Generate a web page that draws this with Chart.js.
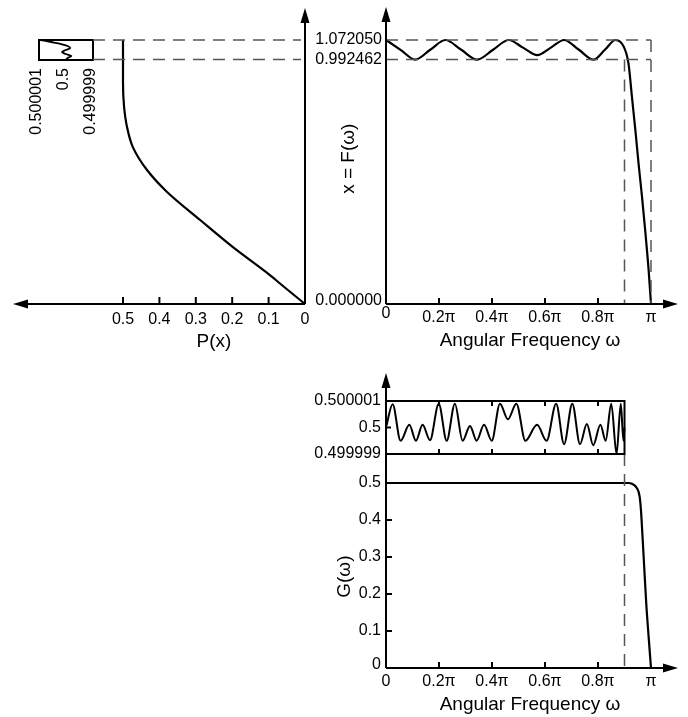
<!DOCTYPE html>
<html>
<head>
<meta charset="utf-8">
<script src="https://cdn.jsdelivr.net/npm/chart.js@4.4.0/dist/chart.umd.min.js"></script>
<style>
  body { margin: 0; background: #fff; }
  #wrap { position: relative; width: 688px; height: 717px; }
  #wrap canvas { position: absolute; left: 0; top: 0; }
</style>
</head>
<body>
<div id="wrap">
  <canvas id="pChart" width="688" height="717"></canvas>
  <canvas id="pZoom" width="688" height="717"></canvas>
  <canvas id="fChart" width="688" height="717"></canvas>
  <canvas id="gChart" width="688" height="717"></canvas>
  <canvas id="gZoom" width="688" height="717"></canvas>
</div>
<script>
// ---- data ----
// frequencies are in units of pi
const omegaTicks = [0, 0.2, 0.4, 0.6, 0.8, 1];
const omegaTickLabels = ['0', '0.2π', '0.4π', '0.6π', '0.8π', 'π'];
const pTicks = [0.5, 0.4, 0.3, 0.2, 0.1, 0];
const pTickLabels = ['0.5', '0.4', '0.3', '0.2', '0.1', '0'];
const gTicks = [0, 0.1, 0.2, 0.3, 0.4, 0.5];
const gTickLabels = ['0', '0.1', '0.2', '0.3', '0.4', '0.5'];
const xLevels = [0, 0.992462, 1.072050];
const xLevelLabels = ['0.000000', '0.992462', '1.072050'];
// close-ups are offsets from 0.5 in units of 1e-6
const zoomTicks = [1, 0, -1];
const zoomTickLabels = ['0.500001', '0.5', '0.499999'];

// x = F(omega)
const fOmega = [0, 0.055, 0.11, 0.167, 0.224, 0.284, 0.344, 0.404, 0.463, 0.517, 0.571, 0.622,
  0.672, 0.728, 0.783, 0.826, 0.866, 0.897, 0.915, 0.928, 0.941, 0.953, 0.966, 0.978, 0.991, 1];
const fValue = [1.07205, 1.0323, 0.99246, 1.0323, 1.07205, 1.0323, 0.99246, 1.0323, 1.07205, 1.041, 1.0105, 1.041,
  1.07205, 1.0323, 0.99246, 1.0323, 1.07205, 1.045, 0.977, 0.842, 0.706, 0.571, 0.436, 0.300, 0.138, 0];

// P(x), x runs up the shared vertical axis
const pX = [0, 0.07, 0.126, 0.231, 0.341, 0.455, 0.544, 0.637, 0.719, 0.80, 0.897, 1.07205];
const pValue = [0, 0.058, 0.104, 0.198, 0.288, 0.379, 0.434, 0.473, 0.489, 0.497, 0.5, 0.5];
const pZoomX = [0.99246, 1.00042, 1.00838, 1.01634, 1.0243, 1.03226, 1.04021, 1.04817, 1.05613, 1.06409, 1.07205];
const pZoomDev = [0.01, -0.06, -0.2, 0.01, 0.15, 0.01, -0.16, -0.06, 0.18, 0.55, 0.94];

// G(omega)
const gOmega = [0, 0.9, 0.915, 0.928, 0.947, 0.957, 0.962, 0.968, 0.975, 0.982, 0.991, 1];
const gValue = [0.5, 0.5, 0.5, 0.498, 0.486, 0.464, 0.428, 0.355, 0.265, 0.175, 0.085, 0];
const gZoomOmega = [0, 0.025, 0.055, 0.088, 0.113, 0.138, 0.166, 0.199, 0.229, 0.260, 0.289, 0.317,
  0.342, 0.370, 0.399, 0.430, 0.460, 0.492, 0.526, 0.570, 0.606, 0.642, 0.672, 0.703, 0.732, 0.758,
  0.782, 0.809, 0.829, 0.850, 0.870, 0.886, 0.896, 0.9];
const gZoomDev = [0, 0.88, -0.5, 0.1, -0.5, 0.1, -0.48, 0.9, -0.5, 0.9, -0.5, 0.06,
  -0.5, 0.1, -0.5, 0.9, 0.31, 0.9, -0.5, 0.1, -0.5, 0.9, -0.63, 0.9, -0.63, 0.13,
  -0.67, 0.1, -0.5, 0.9, -1.0, 0.9, -0.5, 0];

// ---- drawing helpers ----
const W = 688, H = 717;
const FONT = '"Liberation Sans", Arial, Helvetica, sans-serif';
const DASH = [12, 8];

function pts(xs, ys) {
  return xs.map(function (v, i) { return { x: v, y: ys[i] }; });
}

function seg(ctx, x1, y1, x2, y2) {
  ctx.beginPath();
  ctx.moveTo(x1, y1);
  ctx.lineTo(x2, y2);
  ctx.stroke();
}

function arrowLine(ctx, x1, y1, x2, y2) {
  const a = Math.atan2(y2 - y1, x2 - x1), c = Math.cos(a), s = Math.sin(a);
  const len = 15, half = 4.5;
  seg(ctx, x1, y1, x2 - c * len * 0.7, y2 - s * len * 0.7);
  ctx.beginPath();
  ctx.moveTo(x2, y2);
  ctx.lineTo(x2 - c * len + s * half, y2 - s * len - c * half);
  ctx.lineTo(x2 - c * len - s * half, y2 - s * len + c * half);
  ctx.closePath();
  ctx.fill();
}

function label(ctx, str, x, y, align, size, rot) {
  ctx.save();
  ctx.font = (size || 16) + 'px ' + FONT;
  ctx.fillStyle = '#000';
  ctx.textAlign = align || 'center';
  ctx.textBaseline = 'middle';
  ctx.translate(x, y);
  if (rot) ctx.rotate(rot);
  ctx.fillText(str, 0, 0);
  ctx.restore();
}

function dashed(ctx, x1, y1, x2, y2) {
  ctx.save();
  ctx.strokeStyle = '#555';
  ctx.lineWidth = 1.5;
  ctx.setLineDash(DASH);
  seg(ctx, x1, y1, x2, y2);
  ctx.restore();
}

function curve(data, width) {
  return {
    data: data,
    borderColor: '#000',
    borderWidth: width || 2.2,
    pointRadius: 0,
    fill: false,
    clip: false,
    cubicInterpolationMode: 'monotone'
  };
}

function makeChart(id, area, xs, ys, datasets, decorate, indexAxis) {
  return new Chart(document.getElementById(id), {
    type: 'line',
    data: { datasets: datasets },
    options: {
      indexAxis: indexAxis || 'x',
      responsive: false,
      animation: false,
      devicePixelRatio: 1,
      events: [],
      layout: { padding: { left: area[0], top: area[1], right: W - area[2], bottom: H - area[3] } },
      plugins: { legend: { display: false }, tooltip: { enabled: false } },
      scales: {
        x: Object.assign({ type: 'linear', display: false }, xs),
        y: Object.assign({ type: 'linear', display: false }, ys)
      }
    },
    plugins: [{ id: 'decor', afterDraw: decorate }]
  });
}

// ---- P(x) panel, drawn right to left ----
const pChart = makeChart('pChart', [123, 40, 305, 304],
  { min: 0, max: 0.5, reverse: true }, { min: 0, max: xLevels[2] },
  [curve(pts(pValue, pX))],
  function (chart) {
    const ctx = chart.ctx, sx = chart.scales.x, sy = chart.scales.y;
    const x0 = sx.getPixelForValue(0), y0 = sy.getPixelForValue(0);
    ctx.save();
    ctx.strokeStyle = ctx.fillStyle = '#000';
    ctx.lineWidth = 2;
    arrowLine(ctx, x0, y0, x0 - 292, y0);
    arrowLine(ctx, x0, y0, x0, y0 - 296);
    pTicks.forEach(function (v, i) {
      const px = sx.getPixelForValue(v);
      if (v > 0) seg(ctx, px, y0, px, y0 - 7);
      label(ctx, pTickLabels[i], px, y0 + 16);
    });
    label(ctx, 'P(x)', sx.getPixelForValue(0.25), y0 + 38, 'center', 19);
    ctx.restore();
  }, 'y');

// close-up of P(x) near 0.5 over the ripple band
const pZoom = makeChart('pZoom', [39, 40, 93, 60],
  { min: -1, max: 1, reverse: true }, { min: xLevels[1], max: xLevels[2] },
  [curve(pts(pZoomDev, pZoomX), 1.8)],
  function (chart) {
    const ctx = chart.ctx, a = chart.chartArea, sx = chart.scales.x;
    ctx.save();
    ctx.strokeStyle = '#000';
    ctx.lineWidth = 2;
    ctx.strokeRect(a.left, a.top, a.right - a.left, a.bottom - a.top);
    zoomTicks.forEach(function (v, i) {
      label(ctx, zoomTickLabels[i], sx.getPixelForValue(v) - 2, a.bottom + 8, 'right', 16, -Math.PI / 2);
    });
    ctx.restore();
  }, 'y');

// ---- x = F(omega) panel ----
const fChart = makeChart('fChart', [386, 40, 651, 304],
  { min: 0, max: 1 }, { min: 0, max: xLevels[2] },
  [curve(pts(fOmega, fValue))],
  function (chart) {
    const ctx = chart.ctx, sx = chart.scales.x, sy = chart.scales.y;
    const x0 = sx.getPixelForValue(0), y0 = sy.getPixelForValue(0);
    const xEnd = sx.getPixelForValue(1), xEdge = sx.getPixelForValue(0.9);
    const left = pZoom.chartArea.right, pAxis = pChart.scales.x.getPixelForValue(0);
    // the level lines break where the value labels sit
    [xLevels[1], xLevels[2]].forEach(function (v) {
      const py = sy.getPixelForValue(v);
      dashed(ctx, left, py, pAxis - 4, py);
      dashed(ctx, x0, py, xEnd, py);
    });
    dashed(ctx, xEdge, sy.getPixelForValue(xLevels[1]), xEdge, y0);
    dashed(ctx, xEnd, sy.getPixelForValue(xLevels[2]), xEnd, y0);
    ctx.save();
    ctx.strokeStyle = ctx.fillStyle = '#000';
    ctx.lineWidth = 2;
    arrowLine(ctx, x0, y0, x0 + 292, y0);
    arrowLine(ctx, x0, y0, x0, y0 - 297);
    omegaTicks.forEach(function (v, i) {
      const px = sx.getPixelForValue(v);
      if (v > 0 && v < 1) seg(ctx, px, y0, px, y0 - 6);
      label(ctx, omegaTickLabels[i], px, y0 + (v === 0 ? 10 : 14));
    });
    xLevels.forEach(function (v, i) {
      label(ctx, xLevelLabels[i], x0 - 4, sy.getPixelForValue(v) - (v === 0 ? 3 : 0), 'right');
    });
    label(ctx, 'Angular Frequency ω', x0 + 144, y0 + 37, 'center', 19);
    label(ctx, 'x = F(ω)', x0 - 37, sy.getPixelForValue(0.59), 'center', 19, -Math.PI / 2);
    ctx.restore();
  });

// ---- G(omega) panel ----
const gChart = makeChart('gChart', [386, 483, 651, 668],
  { min: 0, max: 1 }, { min: 0, max: 0.5 },
  [curve(pts(gOmega, gValue))],
  function (chart) {
    const ctx = chart.ctx, sx = chart.scales.x, sy = chart.scales.y;
    const x0 = sx.getPixelForValue(0), y0 = sy.getPixelForValue(0);
    ctx.save();
    ctx.strokeStyle = ctx.fillStyle = '#000';
    ctx.lineWidth = 2;
    arrowLine(ctx, x0, y0, x0 + 292, y0);
    arrowLine(ctx, x0, y0, x0, y0 - 295);
    omegaTicks.forEach(function (v, i) {
      const px = sx.getPixelForValue(v);
      if (v > 0 && v < 1) seg(ctx, px, y0, px, y0 - 6);
      label(ctx, omegaTickLabels[i], px, y0 + 14);
    });
    gTicks.forEach(function (v, i) {
      const py = sy.getPixelForValue(v);
      if (v > 0) seg(ctx, x0, py, x0 + 6, py);
      label(ctx, gTickLabels[i], x0 - 5, py - (v === 0 ? 3 : 0), 'right');
    });
    label(ctx, 'Angular Frequency ω', x0 + 144, y0 + 37, 'center', 19);
    label(ctx, 'G(ω)', x0 - 41, sy.getPixelForValue(0.247), 'center', 19, -Math.PI / 2);
    ctx.restore();
  });

// close-up of G(omega) over the passband
const gZoom = makeChart('gZoom', [386, 401, 624.5, 454],
  { min: 0, max: 0.9 }, { min: -1, max: 1 },
  [curve(pts(gZoomOmega, gZoomDev), 2)],
  function (chart) {
    const ctx = chart.ctx, a = chart.chartArea, sx = chart.scales.x, sy = chart.scales.y;
    dashed(ctx, a.right, a.bottom, a.right, gChart.scales.y.getPixelForValue(0));
    ctx.save();
    ctx.strokeStyle = '#000';
    ctx.lineWidth = 2;
    ctx.strokeRect(a.left, a.top, a.right - a.left, a.bottom - a.top);
    omegaTicks.forEach(function (v) {
      if (v <= 0 || v >= 0.9) return;
      const px = sx.getPixelForValue(v);
      seg(ctx, px, a.bottom, px, a.bottom - 5);
      seg(ctx, px, a.top, px, a.top + 5);
    });
    seg(ctx, a.left, sy.getPixelForValue(0), a.left + 5, sy.getPixelForValue(0));
    zoomTicks.forEach(function (v, i) {
      label(ctx, zoomTickLabels[i], a.left - 5, sy.getPixelForValue(v), 'right');
    });
    ctx.restore();
  });
</script>
</body>
</html>
